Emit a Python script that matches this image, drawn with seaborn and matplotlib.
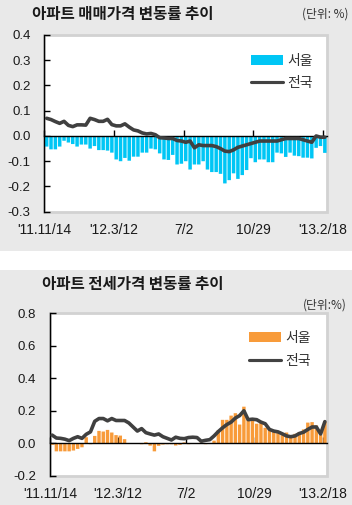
#!/usr/bin/env python3

import numpy as np
import seaborn as sns
import matplotlib.pyplot as plt
from matplotlib.patches import Rectangle

sns.set_theme(style="white")
plt.rcParams['font.family'] = ['Liberation Sans', 'Noto Sans CJK KR', 'DejaVu Sans']
plt.rcParams['axes.unicode_minus'] = False

# weekly change (%), '11.11/14 ~ '13.2/25
seoul_sale = [-0.042, -0.053, -0.053, -0.042, -0.019, -0.026, -0.032, -0.042, -0.034, -0.034,
              -0.050, -0.040, -0.056, -0.056, -0.058, -0.066, -0.093, -0.100, -0.087, -0.098,
              -0.082, -0.082, -0.066, -0.066, -0.050, -0.053, -0.069, -0.093, -0.095, -0.075,
              -0.113, -0.110, -0.100, -0.133, -0.113, -0.113, -0.100, -0.133, -0.143, -0.143,
              -0.150, -0.188, -0.175, -0.148, -0.170, -0.155, -0.135, -0.088, -0.104, -0.093,
              -0.093, -0.104, -0.104, -0.066, -0.069, -0.083, -0.066, -0.078, -0.080, -0.086,
              -0.086, -0.089, -0.047, -0.040, -0.067]
national_sale = [0.070, 0.065, 0.057, 0.050, 0.058, 0.042, 0.037, 0.044, 0.044, 0.043,
                 0.070, 0.065, 0.058, 0.058, 0.066, 0.045, 0.040, 0.040, 0.048, 0.035,
                 0.024, 0.020, 0.012, 0.008, 0.010, 0.005, -0.007, -0.008, -0.010, -0.010,
                 -0.018, -0.020, -0.025, -0.020, -0.047, -0.035, -0.038, -0.038, -0.038, -0.042,
                 -0.050, -0.060, -0.062, -0.055, -0.045, -0.040, -0.035, -0.030, -0.025, -0.020,
                 -0.020, -0.020, -0.020, -0.020, -0.015, -0.010, -0.010, -0.010, -0.010, -0.015,
                 -0.020, -0.025, 0.000, -0.005, -0.005]
seoul_jeonse = [-0.010, -0.050, -0.050, -0.050, -0.050, -0.045, -0.035, -0.025, 0.037, -0.006,
                0.045, 0.076, 0.072, 0.082, 0.066, 0.050, 0.047, 0.025, 0.000, 0.000,
                0.000, -0.006, 0.006, -0.015, -0.050, -0.016, -0.008, -0.006, -0.006, -0.014,
                -0.010, 0.005, -0.006, 0.000, 0.000, 0.005, -0.006, 0.000, 0.016, 0.080,
                0.144, 0.144, 0.170, 0.185, 0.115, 0.225, 0.145, 0.145, 0.120, 0.125,
                0.095, 0.085, 0.072, 0.063, 0.050, 0.066, 0.043, 0.058, 0.068, 0.085,
                0.127, 0.130, 0.110, 0.050, 0.133]
national_jeonse = [0.050, 0.032, 0.030, 0.025, 0.016, 0.030, 0.040, 0.030, 0.055, 0.070,
                   0.135, 0.152, 0.152, 0.138, 0.152, 0.140, 0.140, 0.140, 0.125, 0.100,
                   0.075, 0.090, 0.065, 0.057, 0.050, 0.057, 0.040, 0.030, 0.020, 0.037,
                   0.030, 0.028, 0.035, 0.037, 0.035, 0.012, 0.018, 0.022, 0.045, 0.072,
                   0.095, 0.115, 0.130, 0.155, 0.170, 0.200, 0.145, 0.148, 0.145, 0.130,
                   0.120, 0.085, 0.075, 0.070, 0.058, 0.045, 0.040, 0.045, 0.060, 0.068,
                   0.085, 0.100, 0.100, 0.057, 0.133]

tick_weeks = [0, 16, 32, 48, 64]
tick_labels = ["'11.11/14", "'12.3/12", "7/2", "10/29", "'13.2/18"]

LINE_COLOR = "#404040"
KR = 'Noto Sans CJK KR'


def draw_panel(ax, seoul, national, bar_color, yticks, legend_xy):
    week = np.arange(len(seoul))
    sns.barplot(x=week, y=seoul, native_scale=True, width=0.8, color=bar_color,
                saturation=1, label="서울", ax=ax)
    for p in ax.patches:
        p.set_snap(False)
        p.set_linewidth(0)
    sns.lineplot(x=week, y=national, color=LINE_COLOR, linewidth=2.6, label="전국",
                 ax=ax, zorder=3)
    ax.set(xlabel="", ylabel="")
    ax.set_xlim(-0.5, len(seoul) - 0.5)
    ax.set_ylim(yticks[0], yticks[-1])

    # light frame around plot area, black y spine, zero line as x axis
    ax.add_patch(Rectangle((0, 0), 1, 1, transform=ax.transAxes, fill=False,
                           edgecolor="#d2d2d2", lw=2, clip_on=False, zorder=0.5))
    for s in ["top", "right"]:
        ax.spines[s].set_visible(False)
    ax.spines["left"].set_color("black")
    ax.spines["left"].set_linewidth(1)
    ax.spines["bottom"].set_position(("data", 0))
    ax.spines["bottom"].set_color("black")
    ax.spines["bottom"].set_linewidth(1)

    pos = [w - 0.5 for w in tick_weeks]
    ax.set_xticks(pos)
    ax.tick_params(axis="x", direction="in", length=4, width=1, color="black",
                   bottom=True, labelbottom=False)
    ax.set_yticks(yticks)
    ax.set_yticklabels([f"{v:.1f}" for v in yticks])
    ax.tick_params(axis="y", direction="in", length=4, width=1, color="black",
                   left=True, labelsize=9.5, labelcolor="#1a1a1a", pad=10)

    sec = ax.secondary_xaxis("bottom")
    sec.set_xticks(pos, labels=tick_labels)
    sec.tick_params(length=0, pad=8, labelsize=10, labelcolor="#1a1a1a")
    sec.spines["bottom"].set_visible(False)

    handles = [ax.containers[0], ax.get_lines()[0]]
    ax.legend(handles=handles, labels=["서울", "전국"], loc="upper left",
              bbox_to_anchor=legend_xy, frameon=False, prop={"family": KR, "size": 10},
              handlelength=2.3, handletextpad=0.3, borderpad=0, borderaxespad=0,
              labelspacing=0.6, labelcolor="#333333")


fig = plt.figure(figsize=(3.52, 5.05), dpi=100, facecolor="#e9e9e9")
fig.patches.append(Rectangle((0, 0.4653), 1, 0.0376, transform=fig.transFigure,
                             facecolor="white", edgecolor="none"))

ax1 = fig.add_axes([0.1264, 0.5808, 0.8026, 0.3499])
draw_panel(ax1, seoul_sale, national_sale, "#00c6f5",
           [-0.3, -0.2, -0.1, 0.0, 0.1, 0.2, 0.3, 0.4], (0.731, 0.895))

ax2 = fig.add_axes([0.142, 0.058, 0.787, 0.3216])
draw_panel(ax2, seoul_jeonse, national_jeonse, "#f89b3a",
           [-0.2, 0.0, 0.2, 0.4, 0.6, 0.8], (0.718, 0.89))

fig.text(32 / 352, 1 - 14.5 / 505, "아파트 매매가격 변동률 추이", family=KR,
         fontsize=11.2, weight="bold", color="#1a1a1a", ha="left", va="center")
fig.text(348 / 352, 1 - 14 / 505, "(단위: %)", family=KR, fontsize=8.5,
         color="#333333", ha="right", va="center")
fig.text(42 / 352, 1 - 284 / 505, "아파트 전세가격 변동률 추이", family=KR,
         fontsize=11.2, weight="bold", color="#1a1a1a", ha="left", va="center")
fig.text(347 / 352, 1 - 305 / 505, "(단위:%)", family=KR, fontsize=8.5,
         color="#333333", ha="right", va="center")

fig.savefig("out.png", dpi=100, facecolor=fig.get_facecolor())
plt.close(fig)
